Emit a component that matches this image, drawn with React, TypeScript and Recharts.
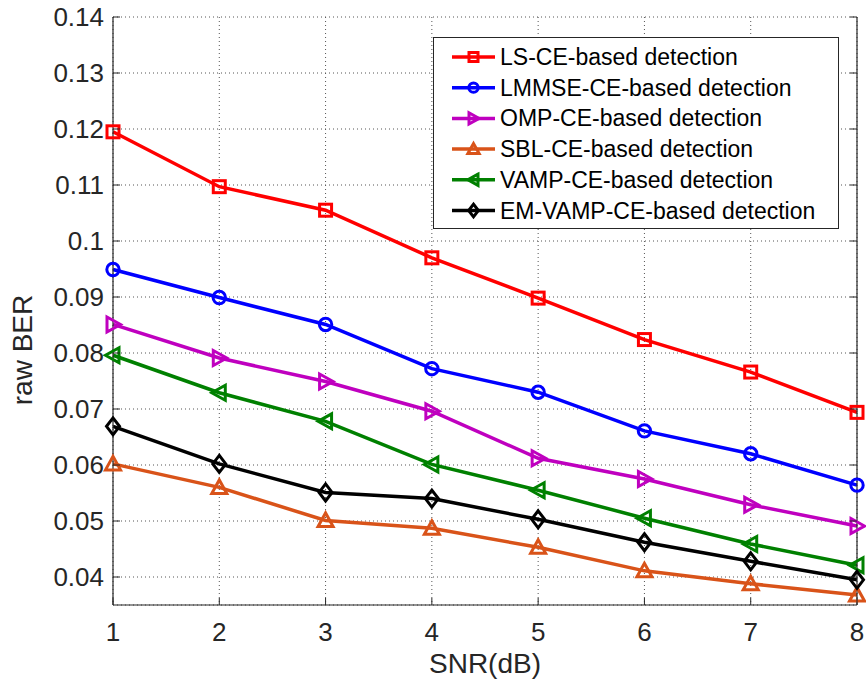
import React from 'react';
import { LineChart, Line, XAxis, YAxis, CartesianGrid, Legend } from 'recharts';

const snr = [1, 2, 3, 4, 5, 6, 7, 8];
const lsBer = [0.1195, 0.1097, 0.1055, 0.097, 0.0898, 0.0824, 0.0766, 0.0694];
const lmmseBer = [0.0949, 0.0899, 0.0851, 0.0772, 0.073, 0.0661, 0.062, 0.0564];
const ompBer = [0.0851, 0.0791, 0.0749, 0.0696, 0.0612, 0.0575, 0.0529, 0.0491];
const sblBer = [0.0602, 0.056, 0.0501, 0.0487, 0.0453, 0.0411, 0.0388, 0.0368];
const vampBer = [0.0796, 0.0729, 0.0678, 0.0601, 0.0555, 0.0505, 0.0459, 0.0421];
const emVampBer = [0.0669, 0.0602, 0.0551, 0.054, 0.0503, 0.0462, 0.0428, 0.0395];

const xTicks = [1, 2, 3, 4, 5, 6, 7, 8];
const yTicks = [0.04, 0.05, 0.06, 0.07, 0.08, 0.09, 0.1, 0.11, 0.12, 0.13, 0.14];
const yDomain = [0.035, 0.14];

type Shape = 'square' | 'circle' | 'right' | 'up' | 'left' | 'diamond';

const series: { key: string; name: string; color: string; shape: Shape }[] = [
  { key: 'ls', name: 'LS-CE-based detection', color: '#FF0000', shape: 'square' },
  { key: 'lmmse', name: 'LMMSE-CE-based detection', color: '#0000FF', shape: 'circle' },
  { key: 'omp', name: 'OMP-CE-based detection', color: '#BF00BF', shape: 'right' },
  { key: 'sbl', name: 'SBL-CE-based detection', color: '#D95319', shape: 'up' },
  { key: 'vamp', name: 'VAMP-CE-based detection', color: '#008000', shape: 'left' },
  { key: 'emvamp', name: 'EM-VAMP-CE-based detection', color: '#000000', shape: 'diamond' },
];

const data = snr.map((s, i) => ({
  snr: s,
  ls: lsBer[i],
  lmmse: lmmseBer[i],
  omp: ompBer[i],
  sbl: sblBer[i],
  vamp: vampBer[i],
  emvamp: emVampBer[i],
}));

const FONT = '"Liberation Sans", Arial, Helvetica, sans-serif';
const AXIS = '#262626';

function Marker({ cx, cy, shape, color, k = 1 }: { cx: number; cy: number; shape: Shape; color: string; k?: number }) {
  const sw = 3;
  const p = (pts: number[][]) => pts.map(([a, b]) => `${cx + a * k},${cy + b * k}`).join(' ');
  switch (shape) {
    case 'square':
      return <rect x={cx - 6 * k} y={cy - 6 * k} width={12 * k} height={12 * k} fill="none" stroke={color} strokeWidth={sw} />;
    case 'circle':
      return <circle cx={cx} cy={cy} r={6.2 * k} fill="none" stroke={color} strokeWidth={sw} />;
    case 'right':
      return <polygon points={p([[-6, -7.5], [7.5, 0], [-6, 7.5]])} fill="none" stroke={color} strokeWidth={sw} />;
    case 'left':
      return <polygon points={p([[6, -7.5], [-7.5, 0], [6, 7.5]])} fill="none" stroke={color} strokeWidth={sw} />;
    case 'up':
      return <polygon points={p([[-7.5, 6], [0, -7.5], [7.5, 6]])} fill="none" stroke={color} strokeWidth={sw} />;
    case 'diamond':
    default:
      return <polygon points={p([[0, -8.5], [6.5, 0], [0, 8.5], [-6.5, 0]])} fill="none" stroke={color} strokeWidth={sw} />;
  }
}

const fmtY = (v: number) => String(Number(v.toFixed(2)));

const LeftTick = (props: any) => {
  const { x, y, payload } = props;
  return (
    <g>
      <line x1={x} x2={x + 7} y1={y} y2={y} stroke={AXIS} strokeWidth={1} />
      <text x={x - 9} y={y} textAnchor="end" dominantBaseline="central" fontSize={26} fontFamily={FONT} fill={AXIS}>
        {fmtY(payload.value)}
      </text>
    </g>
  );
};

const RightTick = (props: any) => {
  const { x, y } = props;
  return <line x1={x} x2={x - 7} y1={y} y2={y} stroke={AXIS} strokeWidth={1} />;
};

const TopTick = (props: any) => {
  const { x, y } = props;
  return <line x1={x} x2={x} y1={y} y2={y + 7} stroke={AXIS} strokeWidth={1} />;
};

const BottomTick = (props: any) => {
  const { x, y, payload } = props;
  return (
    <g>
      <line x1={x} x2={x} y1={y} y2={y - 7} stroke={AXIS} strokeWidth={1} />
      <text x={x} y={y + 36} textAnchor="middle" fontSize={26} fontFamily={FONT} fill={AXIS}>
        {String(payload.value)}
      </text>
    </g>
  );
};

const renderLegend = () => (
  <svg width={406} height={192} style={{ display: 'block' }}>
    <rect x={0.5} y={0.5} width={405} height={191} fill="#ffffff" stroke={AXIS} strokeWidth={1} />
    {series.map((s, i) => {
      const cy = 20 + i * 30.7;
      return (
        <g key={s.key}>
          <line x1={19} x2={62} y1={cy} y2={cy} stroke={s.color} strokeWidth={3.5} />
          <Marker cx={40.5} cy={cy} shape={s.shape} color={s.color} k={0.75} />
          <text x={67} y={cy} dominantBaseline="central" fontSize={23} fontFamily={FONT} fill="#000000">
            {s.name}
          </text>
        </g>
      );
    })}
  </svg>
);

export default function App() {
  return (
    <div style={{ position: 'absolute', left: 0, top: 0, width: 866, height: 683, background: '#ffffff' }}>
      <LineChart width={866} height={683} data={data} margin={{ top: 17, right: 0, bottom: 0, left: 0 }}>
        <CartesianGrid stroke="#555555" strokeDasharray="1 3" strokeWidth={1} horizontal vertical />
        <XAxis
          dataKey="snr"
          type="number"
          domain={[1, 8]}
          ticks={xTicks}
          height={78}
          tickSize={0}
          tickMargin={0}
          tickLine={false}
          axisLine={{ stroke: AXIS, strokeWidth: 1.2 }}
          tick={<BottomTick />}
          interval={0}
          label={(p: any) => (
            <text x={485} y={673} textAnchor="middle" fontSize={28} fontFamily={FONT} fill={AXIS}>
              SNR(dB)
            </text>
          )}
        />
        <XAxis
          xAxisId="top"
          orientation="top"
          dataKey="snr"
          type="number"
          domain={[1, 8]}
          ticks={xTicks}
          height={0}
          tickSize={0}
          tickMargin={0}
          tickLine={false}
          axisLine={{ stroke: AXIS, strokeWidth: 1.2 }}
          tick={<TopTick />}
          interval={0}
        />
        <YAxis
          type="number"
          domain={yDomain}
          ticks={yTicks}
          width={113}
          tickSize={0}
          tickMargin={0}
          tickLine={false}
          allowDataOverflow
          axisLine={{ stroke: AXIS, strokeWidth: 1.2 }}
          tick={<LeftTick />}
          interval={0}
          label={(p: any) => (
            <text
              x={22}
              y={350}
              transform="rotate(-90 22 350)"
              textAnchor="middle"
              dominantBaseline="central"
              fontSize={28}
              fontFamily={FONT}
              fill={AXIS}
            >
              raw BER
            </text>
          )}
        />
        <YAxis
          yAxisId="right"
          orientation="right"
          type="number"
          domain={yDomain}
          ticks={yTicks}
          width={9}
          tickSize={0}
          tickMargin={0}
          tickLine={false}
          allowDataOverflow
          axisLine={{ stroke: AXIS, strokeWidth: 1.2 }}
          tick={<RightTick />}
          interval={0}
        />
        {series.map((s) => (
          <Line
            key={s.key}
            type="linear"
            dataKey={s.key}
            name={s.name}
            stroke={s.color}
            strokeWidth={3.5}
            isAnimationActive={false}
            activeDot={false}
            dot={(props: any) => (
              <Marker key={`${s.key}-${props.index}`} cx={props.cx} cy={props.cy} shape={s.shape} color={s.color} />
            )}
          />
        ))}
        <Legend
          layout="horizontal"
          verticalAlign="middle"
          align="center"
          content={renderLegend}
          wrapperStyle={{ position: 'absolute', left: 433, top: 37, width: 406, height: 192 }}
        />
      </LineChart>
    </div>
  );
}
